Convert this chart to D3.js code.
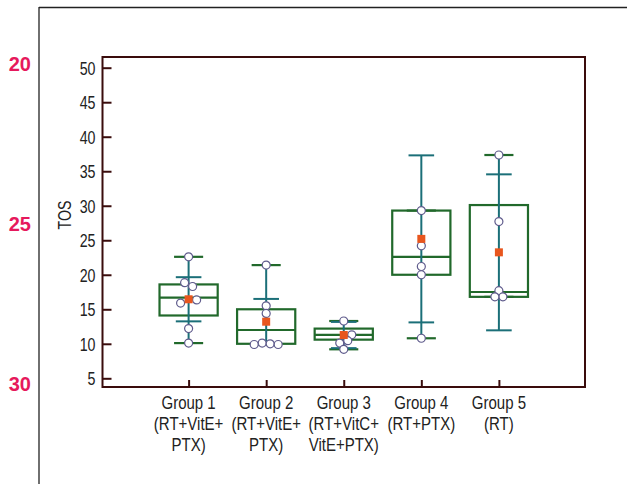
<!DOCTYPE html>
<html>
<head>
<meta charset="utf-8">
<script src="https://cdn.jsdelivr.net/npm/d3@7"></script>
<style>
  body { margin: 0; background: #fff; }
  svg { display: block; }
  text { font-family: "Liberation Sans", Arial, sans-serif; }
</style>
</head>
<body>
<svg id="chart" width="627" height="484"></svg>
<script>
// --- data ---
const groups = ['Group 1', 'Group 2', 'Group 3', 'Group 4', 'Group 5'];
const groupLabels = [
  ['Group 1', '(RT+VitE+', 'PTX)'],
  ['Group 2', '(RT+VitE+', 'PTX)'],
  ['Group 3', '(RT+VitC+', 'VitE+PTX)'],
  ['Group 4', '(RT+PTX)'],
  ['Group 5', '(RT)']
];
const q1Values     = [14.1, 10.0, 10.6, 20.0, 16.8];
const medianValues = [16.7, 12.0, 11.3, 22.6, 17.5];
const q3Values     = [18.6, 15.0, 12.2, 29.3, 30.1];
const minValues    = [10.1,  9.9,  9.2, 10.8, 16.8];
const maxValues    = [22.6, 21.4, 13.3, 29.3, 37.35];
const meanValues   = [16.45, 13.2, 11.27, 25.2, 23.25];
const sdValues     = [3.2,  3.3,  1.9, 12.1, 11.3];
const pointValues = [
  [22.6, 18.85, 18.3, 16.35, 15.9, 12.2, 10.1],
  [21.4, 15.5, 14.4, 10.1, 10.0, 9.9, 9.9],
  [13.3, 11.3, 10.45, 10.1, 9.2],
  [29.3, 24.2, 21.2, 20.0, 10.8],
  [37.35, 27.7, 17.7, 16.8, 16.8]
];
const yTicks = [5, 10, 15, 20, 25, 30, 35, 40, 45, 50];
const lineNumbers = [20, 25, 30];

// --- layout ---
const svg = d3.select('#chart');
const frame = {left: 102.5, right: 585, top: 57, bottom: 387};
const frameColor = '#3a0c0c';
const textColor = '#222';
const green = '#21692b';
const teal = '#1b6f78';
const narrow = 0.79; // horizontal squeeze to fake a condensed face

const x = d3.scalePoint()
  .domain(groups)
  .range([frame.left, frame.right])
  .padding(1.11);

const y = d3.scaleLinear()
  .domain([5, 50])
  .range([378.3, 67.7]);

// page margin lines + line numbers
svg.append('line')
  .attr('x1', 39).attr('x2', 627).attr('y1', 7.5).attr('y2', 7.5)
  .attr('stroke', '#222').attr('stroke-width', 1.3);
svg.append('line')
  .attr('x1', 39).attr('x2', 39).attr('y1', 7).attr('y2', 484)
  .attr('stroke', '#222').attr('stroke-width', 1.3);

const lineNumY = d3.scaleLinear().domain([20, 30]).range([70.5, 391]);
svg.selectAll('text.lineNum')
  .data(lineNumbers)
  .enter()
  .append('text')
    .attr('class', 'lineNum')
    .attr('transform', d => 'translate(31,' + lineNumY(d) + ')')
    .attr('text-anchor', 'end')
    .style('font-weight', 'bold')
    .style('font-size', '20px')
    .attr('fill', '#e6195c')
    .text(d => d);

// y axis - ticks pointing inward
const yAxisG = svg.append('g')
  .attr('class', 'yAxisG')
  .attr('transform', 'translate(' + frame.left + ',0)')
  .call(d3.axisLeft(y).tickValues(yTicks).tickSizeInner(-9).tickSizeOuter(0));
yAxisG.select('.domain').remove();
yAxisG.selectAll('line').attr('stroke', frameColor).attr('stroke-width', 2);
yAxisG.selectAll('text')
  .attr('x', 0)
  .attr('dy', null)
  .attr('transform', 'translate(-7,6.5) scale(' + narrow + ',1)')
  .style('font-size', '18px')
  .attr('fill', textColor);

// x axis - ticks pointing inward
const xAxisG = svg.append('g')
  .attr('class', 'xAxisG')
  .attr('transform', 'translate(0,' + frame.bottom + ')')
  .call(d3.axisBottom(x).tickSizeInner(-7).tickSizeOuter(0).tickFormat(''));
xAxisG.select('.domain').remove();
xAxisG.selectAll('line').attr('stroke', frameColor).attr('stroke-width', 2);

// multi-line category labels
const labelG = svg.selectAll('text.groupLabel')
  .data(groups)
  .enter()
  .append('text')
    .attr('class', 'groupLabel')
    .attr('text-anchor', 'middle')
    .attr('transform', d => 'translate(' + x(d) + ',0) scale(' + narrow + ',1)')
    .attr('fill', textColor)
    .style('font-size', '19px');
labelG.selectAll('tspan')
  .data((d, i) => groupLabels[i])
  .enter()
  .append('tspan')
    .attr('x', 0)
    .attr('y', (d, j) => 409 + j * 21)
    .text(d => d);

// TOS label
svg.append('text')
  .attr('transform', 'translate(71,215) rotate(-90) scale(' + narrow + ',1)')
  .attr('text-anchor', 'middle')
  .attr('fill', textColor)
  .style('font-size', '18px')
  .text('TOS');

// --- box plots ---
const step = x.step();
const boxW = step * 0.75;
const capW = step * 0.375;
const sdCapW = step * 0.33;

const boxData = groups.map((g, i) => ({
  g,
  q1: q1Values[i], med: medianValues[i], q3: q3Values[i],
  min: minValues[i], max: maxValues[i],
  mean: meanValues[i], sd: sdValues[i],
  pts: pointValues[i]
}));

const boxG = svg.selectAll('g.boxG')
  .data(boxData)
  .enter()
  .append('g')
    .attr('class', 'boxG')
    .attr('transform', d => 'translate(' + x(d.g) + ',0)');

// box
boxG.append('rect')
  .attr('x', -boxW / 2)
  .attr('width', boxW)
  .attr('y', d => y(d.q3))
  .attr('height', d => y(d.q1) - y(d.q3))
  .attr('fill', 'none')
  .attr('stroke', green)
  .attr('stroke-width', 2.2);
boxG.append('line')
  .attr('x1', -boxW / 2).attr('x2', boxW / 2)
  .attr('y1', d => y(d.med)).attr('y2', d => y(d.med))
  .attr('stroke', green).attr('stroke-width', 2.2);

// min / max caps
boxG.selectAll('line.cap')
  .data(d => [d.min, d.max])
  .enter()
  .append('line')
    .attr('class', 'cap')
    .attr('x1', -capW / 2).attr('x2', capW / 2)
    .attr('y1', v => y(v)).attr('y2', v => y(v))
    .attr('stroke', green).attr('stroke-width', 2.2);

// vertical whisker (teal)
boxG.append('line')
  .attr('x1', 0).attr('x2', 0)
  .attr('y1', d => y(Math.max(d.max, d.mean + d.sd)))
  .attr('y2', d => y(Math.min(d.min, d.mean - d.sd)))
  .attr('stroke', teal).attr('stroke-width', 2);

// mean +- sd caps
boxG.selectAll('line.sdCap')
  .data(d => [d.mean - d.sd, d.mean + d.sd])
  .enter()
  .append('line')
    .attr('class', 'sdCap')
    .attr('x1', -sdCapW / 2).attr('x2', sdCapW / 2)
    .attr('y1', v => y(v)).attr('y2', v => y(v))
    .attr('stroke', teal).attr('stroke-width', 2);

// simple dodge so overlapping points spread sideways
const dotR = 4;
const minDist = 6.5;
const dodge = (values, mean) => {
  const placed = [{y: y(mean), dx: 0}];
  const out = [];
  values.slice().sort((a, b) => b - a).forEach(v => {
    const py = y(v);
    let dx = 0;
    for (let k = 0; k < 20; k++) {
      const cand = k === 0 ? 0 : (k % 2 ? 1 : -1) * Math.ceil(k / 2) * 4;
      const hit = placed.some(p => Math.hypot(p.dx - cand, p.y - py) < minDist);
      if (!hit) { dx = cand; break; }
    }
    const p = {y: py, dx, v};
    placed.push(p);
    out.push(p);
  });
  // recenter clusters that don't touch the mean marker
  const my = y(mean);
  let cluster = [];
  const flush = () => {
    if (cluster.length > 1 && !cluster.some(p => Math.abs(p.y - my) < minDist)) {
      const m = d3.mean(cluster, p => p.dx);
      cluster.forEach(p => { p.dx -= m; });
    }
    cluster = [];
  };
  out.forEach((p, i) => {
    if (i > 0 && p.y - out[i - 1].y >= minDist) flush();
    cluster.push(p);
  });
  flush();
  return out;
};

boxG.selectAll('circle.datapoint')
  .data(d => dodge(d.pts, d.mean))
  .enter()
  .append('circle')
    .attr('class', 'datapoint')
    .attr('cx', p => p.dx)
    .attr('cy', p => p.y)
    .attr('r', dotR)
    .attr('fill', '#fff')
    .attr('stroke', '#5f5b8c')
    .attr('stroke-width', 1.2);

// mean marker
boxG.append('rect')
  .attr('x', -4).attr('width', 8)
  .attr('y', d => y(d.mean) - 4).attr('height', 8)
  .attr('fill', '#e8561e');

// plot frame
svg.append('rect')
  .attr('x', frame.left).attr('y', frame.top)
  .attr('width', frame.right - frame.left)
  .attr('height', frame.bottom - frame.top)
  .attr('fill', 'none')
  .attr('stroke', frameColor)
  .attr('stroke-width', 2);
</script>
</body>
</html>
